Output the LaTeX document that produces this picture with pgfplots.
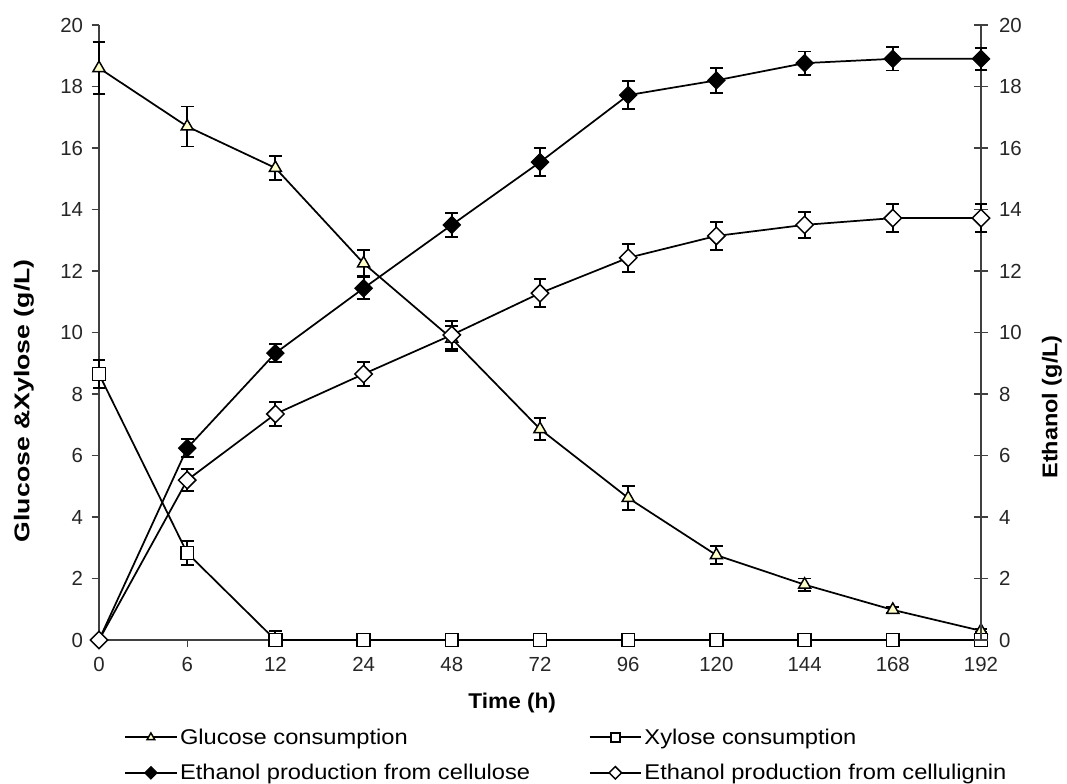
\documentclass[border=0pt]{standalone}
\usepackage{pgfplots}
\usepackage{pgfplotstable}
\pgfplotsset{compat=1.18}
\usepackage{fontspec}
\setmainfont{Liberation Sans}
\definecolor{glu}{RGB}{255,255,204}
\definecolor{axc}{RGB}{64,64,64}

\pgfplotstableread{
x y e
0 18.6 0.85
1 16.7 0.65
2 15.35 0.4
3 12.25 0.42
4 9.8 0.4
5 6.86 0.35
6 4.62 0.38
7 2.76 0.3
8 1.8 0.2
9 0.98 0.1
10 0.3 0.05
}\glucose

\pgfplotstableread{
x y ep em
0 8.65 0.45 0.45
1 2.83 0.4 0.4
2 0 0.3 0
3 0 0 0
4 0 0 0
5 0 0 0
6 0 0 0
7 0 0 0
8 0 0 0
9 0 0 0
10 0 0 0
}\xylose

\pgfplotstableread{
x y e
0 0 0
1 6.24 0.3
2 9.33 0.3
3 11.44 0.35
4 13.5 0.4
5 15.54 0.45
6 17.72 0.45
7 18.2 0.4
8 18.76 0.38
9 18.9 0.38
10 18.9 0.35
}\ethcell

\pgfplotstableread{
x y e
0 0 0
1 5.2 0.35
2 7.35 0.4
3 8.65 0.4
4 9.92 0.45
5 11.28 0.45
6 12.43 0.45
7 13.14 0.45
8 13.5 0.43
9 13.72 0.45
10 13.72 0.45
}\ethlig

\pgfplotsset{
  base/.style={
    scale only axis, width=661.5pt, height=461.25pt,
    xmin=0, xmax=10, ymin=0, ymax=20,
    ytick={0,2,...,20},
    clip=false,
    axis line style={axc, line width=0.8pt},
    major tick style={axc, line width=0.8pt},
    tick label style={font=\fontsize{15.3}{18}\selectfont, text=black!85},
    /pgf/number format/assume math mode=true,
  },
  ebars/.style={error bars/.cd, y dir=both, y explicit,
    error bar style={black, line width=1.4pt, solid},
    error mark options={black, rotate=90, mark size=4.8pt, line width=1.4pt}},
  gsty/.style={black, line width=1.3pt, mark=triangle*, mark size=5.2pt, mark options={fill=glu, solid, line width=1.1pt}},
  xsty/.style={black, line width=1.3pt, mark=square*, mark size=4.8pt, mark options={fill=white, solid, line width=1.2pt}},
  csty/.style={black, line width=1.3pt, mark=square*, mark size=4.6pt, mark options={fill=black, solid, rotate=45, line width=0.8pt}},
  lsty/.style={black, line width=1.3pt, mark=square*, mark size=4.6pt, mark options={fill=white, solid, rotate=45, line width=1.1pt}},
}

\begin{document}
\begin{tikzpicture}
\begin{axis}[base,
  axis x line*=bottom, axis y line*=left,
  tick align=outside, major tick length=5.5pt,
  xtick={0,...,10},
  xticklabels={0,6,12,24,48,72,96,120,144,168,192},
  xticklabel style={yshift=-4pt},
  yticklabel style={xshift=-3pt},
  xlabel={Time (h)},
  ylabel={Glucose \&Xylose (g/L)},
  every axis x label/.style={at={(axis description cs:0.4685,-0.1024)}, anchor=center,
    font=\fontsize{16}{19}\selectfont\bfseries\addfontfeatures{FakeStretch=1.06}},
  every axis y label/.style={at={(axis description cs:-0.085,0.389)}, anchor=center, rotate=90,
    font=\fontsize{16}{19}\selectfont\bfseries\addfontfeatures{FakeStretch=1.25}},
]
\addplot[gsty, ebars] table[x=x, y=y, y error=e] {\glucose};
\addplot[xsty, ebars] table[x=x, y=y, y error plus=ep, y error minus=em] {\xylose};
\end{axis}

\begin{axis}[base,
  axis x line=none, axis y line*=right,
  tick align=center, major tick length=10pt,
  yticklabel style={xshift=5pt},
  ylabel={Ethanol (g/L)},
  every axis y label/.style={at={(axis description cs:1.0805,0.379)}, anchor=center, rotate=90,
    font=\fontsize{16}{19}\selectfont\bfseries\addfontfeatures{FakeStretch=1.1}},
  legend image code/.code={\draw[mark repeat=2, mark phase=2, #1, mark size=3.3pt] plot coordinates {(0cm,0cm) (0.675cm,0cm) (1.35cm,0cm)};},
  legend columns=2,
  legend cell align=left,
  legend style={at={(axis description cs:0.024,-0.135)}, anchor=north west, draw=none, fill=none,
    font=\fontsize{16}{19}\selectfont\addfontfeatures{FakeStretch=1.11}, row sep=9.5pt,
    /tikz/every even column/.append style={column sep=42pt}},
]
\addlegendimage{gsty}
\addlegendimage{xsty}
\addplot[csty, ebars] table[x=x, y=y, y error=e] {\ethcell};
\addplot[lsty, ebars] table[x=x, y=y, y error=e] {\ethlig};
\legend{Glucose consumption, Xylose consumption, Ethanol production from cellulose, Ethanol production from cellulignin}
\end{axis}
\pgfresetboundingbox
\path[use as bounding box] (-74.25pt,-107.25pt) rectangle (726pt,480pt);
\end{tikzpicture}
\end{document}
